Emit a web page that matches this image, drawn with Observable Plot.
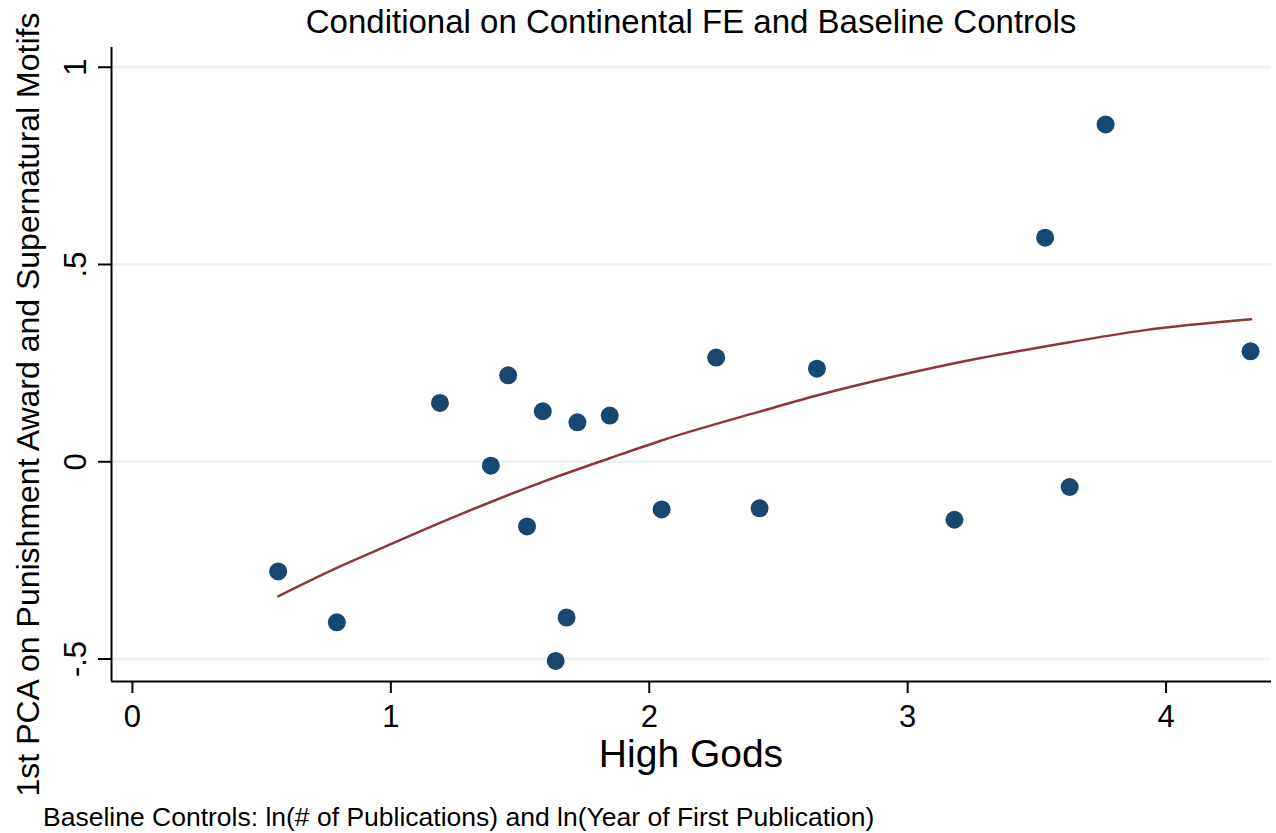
<!DOCTYPE html>
<html>
<head>
<meta charset="utf-8">
<script src="https://cdn.jsdelivr.net/npm/d3@7"></script>
<script src="https://cdn.jsdelivr.net/npm/@observablehq/plot@0.6"></script>
<style>
  html, body { margin: 0; padding: 0; background: #ffffff; }
  #wrap { position: relative; width: 1276px; height: 833px; background: #ffffff; }
  #overlay { position: absolute; left: 0; top: 0; pointer-events: none; }
  #overlay text { font-family: "Liberation Sans", Arial, Helvetica, sans-serif; fill: #000000; }
</style>
</head>
<body>
<div id="wrap">
  <div id="chart"></div>
  <svg id="overlay" width="1276" height="833">
    <text x="691" y="33" text-anchor="middle" font-size="33">Conditional on Continental FE and Baseline Controls</text>
    <text x="691" y="767" text-anchor="middle" font-size="39">High Gods</text>
    <text transform="translate(38.5,404.5) rotate(-90)" text-anchor="middle" font-size="32">1st PCA on Punishment Award and Supernatural Motifs</text>
    <text x="43" y="826" font-size="26.5">Baseline Controls: ln(# of Publications) and ln(Year of First Publication)</text>
  </svg>
</div>
<script>
// Scatter data (High Gods vs 1st PCA score)
const highGods = [0.564, 0.791, 1.190, 1.387, 1.454, 1.527, 1.588, 1.638, 1.680, 1.722,
                  1.847, 2.048, 2.259, 2.427, 2.649, 3.181, 3.532, 3.627, 3.766, 4.327];
const pcaScore = [-0.278, -0.407, 0.149, -0.010, 0.219, -0.164, 0.128, -0.505, -0.395, 0.100,
                  0.117, -0.121, 0.264, -0.118, 0.236, -0.147, 0.568, -0.064, 0.855, 0.280];

// Fitted (quadratic) line
const fitX = [0.564, 0.791, 1.000, 1.190, 1.387, 1.588, 1.847, 2.048, 2.427, 2.649, 2.947, 3.283, 3.532, 3.913, 4.329];
const fitY = [-0.341, -0.269, -0.209, -0.155, -0.102, -0.051, 0.009, 0.054, 0.127, 0.168, 0.216, 0.263, 0.292, 0.333, 0.361];

// Axis ticks
const xTicks = [0, 1, 2, 3, 4];
const yTicks = [-0.5, 0, 0.5, 1];
const yTickLabels = ["-.5", "0", ".5", "1"];

const xDomain = [-0.081, 4.408];
const yDomain = [-0.557, 1.05];

const points = highGods.map((x, i) => ({x, y: pcaScore[i]}));
const fit = fitX.map((x, i) => ({x, y: fitY[i]}));

const chart = Plot.plot({
  width: 1276,
  height: 833,
  marginLeft: 111,
  marginRight: 5,
  marginTop: 47,
  marginBottom: 152,
  style: {fontFamily: "'Liberation Sans', Arial, Helvetica, sans-serif", background: "#ffffff", color: "#000000"},
  x: {domain: xDomain},
  y: {domain: yDomain},
  marks: [
    Plot.gridY(yTicks, {stroke: "#eaf2f3", strokeOpacity: 1, strokeWidth: 2.5}),
    Plot.ruleX([xDomain[0]], {stroke: "#000000", strokeWidth: 2}),
    Plot.ruleY([yDomain[0]], {stroke: "#000000", strokeWidth: 2}),
    Plot.axisX(xTicks, {tickSize: 12, tickPadding: 11, fontSize: 31, strokeWidth: 2, label: null, tickFormat: d => String(d)}),
    Plot.axisY(yTicks, {tickSize: 13, tickRotate: -90, tickPadding: 13, fontSize: 31, strokeWidth: 2, label: null,
                        tickFormat: d => yTickLabels[yTicks.indexOf(d)]}),
    Plot.dot(points, {x: "x", y: "y", r: 9, fill: "#1a476f", stroke: null}),
    Plot.line(fit, {x: "x", y: "y", stroke: "#90353b", strokeWidth: 2.5, curve: "monotone-x"})
  ]
});
document.getElementById("chart").appendChild(chart);
</script>
</body>
</html>
